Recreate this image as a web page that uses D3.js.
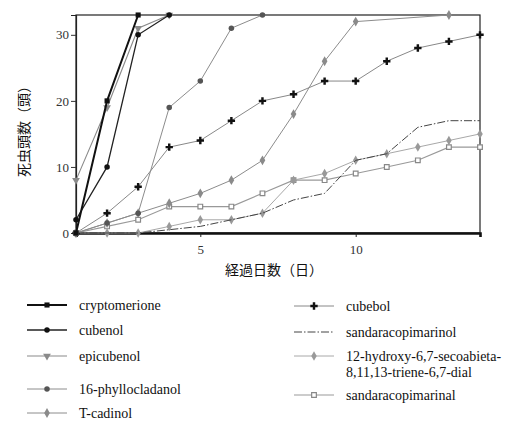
<!DOCTYPE html>
<html>
  <head>
    <meta charset="utf-8">
    <style>
      body { margin: 0; background: #fff; }
      svg { display: block; }
      .series path.line { fill: none; }
      .tick text { font-family: "Liberation Serif", serif; font-size: 13px; fill: #333; }
      .legend text { font-family: "Liberation Serif", serif; font-size: 14px; fill: #111; }
      .title { font-family: "Noto Sans CJK JP", sans-serif; font-size: 14px; fill: #111; }
    </style>
    <script src="https://d3js.org/d3.v7.min.js"></script>
  </head>
  <body>
    <svg class="chart"></svg>

    <script>
      // days after treatment
      const days = [1, 2, 3, 4, 5, 6, 7, 8, 9, 10, 11, 12, 13, 14];

      // dead insects per day (null = no point plotted)
      const cryptomerione = [0, 20, 33, null, null, null, null, null, null, null, null, null, null, null];
      const cubenol = [2, 10, 30, 33, null, null, null, null, null, null, null, null, null, null];
      const epicubenol = [8, 19, 31, 33, null, null, null, null, null, null, null, null, null, null];
      const phyllocladanol = [0, 1.5, 3, 19, 23, 31, 33, null, null, null, null, null, null, null];
      const tCadinol = [0, 1.5, 3, 4.5, 6, 8, 11, 18, 26, 32, null, null, 33, null];
      const cubebol = [0, 3, 7, 13, 14, 17, 20, 21, 23, 23, 26, 28, 29, 30];
      const sandaracopimarinol = [0, 0, 0, 0.5, 1, 2, 3, 5, 6, 11, 12, 16, 17, 17];
      const hydroxyDial = [0, 0, 0, 1, 2, 2, 3, 8, 9, 11, 12, 13, 14, 15];
      const sandaracopimarinal = [0, 1, 2, 4, 4, 4, 6, 8, 8, 9, 10, 11, 13, 13];

      const xTicks = [5, 10];
      const yTicks = [0, 10, 20, 30];

      const width = 515;
      const height = 421;
      const margin = { top: 15, left: 76 };
      const w = 404;
      const h = 218;

      const svg = d3.select('svg')
        .attr('width', width)
        .attr('height', height);

      const g = svg.append('g')
        .attr('transform', `translate(${margin.left},${margin.top})`);

      const x = d3.scaleLinear().domain([1, 14]).range([0, w]);
      const y = d3.scaleLinear().domain([0, 33]).range([h, 0]);

      // frame
      g.append('rect')
        .attr('width', w).attr('height', h)
        .attr('fill', 'none').attr('stroke', '#222').attr('stroke-width', 1.2);

      const yAxis = g.append('g').call(d3.axisLeft(y).tickValues(yTicks).tickSize(5).tickPadding(2));
      yAxis.select('.domain').attr('stroke', '#222').attr('stroke-width', 1.2);
      yAxis.selectAll('.tick line').attr('stroke', '#333');

      const xAxis = g.append('g')
        .attr('transform', `translate(0,${h})`)
        .call(d3.axisBottom(x).tickValues(xTicks).tickSize(4).tickPadding(8));
      xAxis.select('.domain').attr('stroke', '#111').attr('stroke-width', 2.6);
      xAxis.selectAll('.tick line').attr('stroke', '#222');

      const sym = (type, size, rot) => {
        const p = d3.symbol().type(type).size(size)();
        return { d: p, rot: rot || 0 };
      };

      const series = [
        { name: 'cryptomerione', values: cryptomerione, line: '#111', lw: 2, dash: null,
          mark: sym(d3.symbolSquare, 26), fill: '#111', mstroke: 'none' },
        { name: 'cubenol', values: cubenol, line: '#222', lw: 1.3, dash: null,
          mark: sym(d3.symbolCircle, 24), fill: '#111', mstroke: 'none' },
        { name: 'epicubenol', values: epicubenol, line: '#8a8a8a', lw: 1.1, dash: null,
          mark: sym(d3.symbolTriangle, 26, 180), fill: '#8a8a8a', mstroke: 'none' },
        { name: '16-phyllocladanol', values: phyllocladanol, line: '#8c8c8c', lw: 1, dash: null,
          mark: sym(d3.symbolCircle, 24), fill: '#555', mstroke: 'none' },
        { name: 'T-cadinol', values: tCadinol, line: '#8c8c8c', lw: 1, dash: null,
          mark: sym(d3.symbolDiamond, 28), fill: '#8a8a8a', mstroke: 'none' },
        { name: 'cubebol', values: cubebol, line: '#888', lw: 1, dash: null,
          mark: sym(d3.symbolCross, 30), fill: '#111', mstroke: 'none' },
        { name: 'sandaracopimarinol', values: sandaracopimarinol, line: '#444', lw: 1, dash: '8,2,1.5,2',
          mark: null },
        { name: '12-hydroxy-6,7-secoabieta-|8,11,13-triene-6,7-dial', values: hydroxyDial, line: '#a8a8a8', lw: 1, dash: null,
          mark: sym(d3.symbolDiamond, 26), fill: '#999', mstroke: 'none' },
        { name: 'sandaracopimarinal', values: sandaracopimarinal, line: '#999', lw: 1.1, dash: null,
          mark: sym(d3.symbolSquare, 22), fill: '#fff', mstroke: '#888' }
      ];

      const line = d3.line()
        .x(d => x(d.day))
        .y(d => y(d.v));

      // draw back to front so the dark series sit on top
      const order = series.slice().reverse();
      order.forEach(s => {
        const pts = days.map((d, i) => ({ day: d, v: s.values[i] })).filter(p => p.v != null);
        const sg = g.append('g').attr('class', 'series');
        sg.append('path')
          .datum(pts)
          .attr('class', 'line')
          .attr('d', line)
          .attr('stroke', s.line)
          .attr('stroke-width', s.lw)
          .attr('stroke-dasharray', s.dash);
        if (s.mark) {
          sg.selectAll('path.mark')
            .data(pts)
            .join('path')
            .attr('class', 'mark')
            .attr('d', s.mark.d)
            .attr('transform', p => `translate(${x(p.day)},${y(p.v)}) rotate(${s.mark.rot})`)
            .attr('fill', s.fill)
            .attr('stroke', s.mstroke)
            .attr('stroke-width', 1.2);
        }
      });

      // axis titles
      svg.append('text')
        .attr('class', 'title')
        .attr('x', 274).attr('y', 275)
        .attr('text-anchor', 'middle')
        .text('経過日数（日）');

      svg.append('text')
        .attr('class', 'title')
        .attr('transform', 'translate(29,128) rotate(-90)')
        .attr('text-anchor', 'middle')
        .text('死虫頭数（頭）');

      // legend
      const legendPos = [
        { x: 27, y: 305 }, { x: 27, y: 330 }, { x: 27, y: 356 }, { x: 27, y: 389 }, { x: 27, y: 413 },
        { x: 294, y: 306 }, { x: 294, y: 332 }, { x: 294, y: 356 }, { x: 294, y: 395 }
      ];

      const legend = svg.append('g').attr('class', 'legend');
      series.forEach((s, i) => {
        const p = legendPos[i];
        const lg = legend.append('g').attr('transform', `translate(${p.x},${p.y})`);
        lg.append('line')
          .attr('x1', 0).attr('x2', 40)
          .attr('stroke', s.line)
          .attr('stroke-width', s.lw)
          .attr('stroke-dasharray', s.dash);
        if (s.mark) {
          lg.append('path')
            .attr('d', s.mark.d)
            .attr('transform', `translate(20,0) rotate(${s.mark.rot})`)
            .attr('fill', s.fill)
            .attr('stroke', s.mstroke)
            .attr('stroke-width', 1.2);
        }
        const t = lg.append('text').attr('x', 52).attr('y', 5);
        s.name.split('|').forEach((part, k) => {
          t.append('tspan').attr('x', 52).attr('dy', k === 0 ? 0 : 16).text(part);
        });
      });
    </script>
  </body>
</html>
